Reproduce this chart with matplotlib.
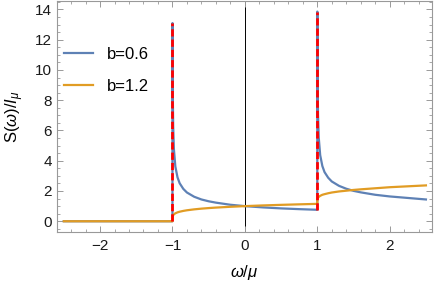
import matplotlib
matplotlib.use("Agg")
import matplotlib.pyplot as plt
from matplotlib.ticker import MultipleLocator

plt.rcParams["font.family"] = ["Liberation Sans", "DejaVu Sans"]
plt.rcParams["mathtext.fontset"] = "custom"
plt.rcParams["mathtext.rm"] = "Liberation Sans"
plt.rcParams["mathtext.it"] = "Liberation Sans:italic"

# curve b=0.6
x_b06 = [-2.5, -1.0, -1.0, -0.9984, -0.997, -0.995, -0.99, -0.98, -0.96, -0.93, -0.9,
         -0.85, -0.8, -0.7, -0.6, -0.5, -0.4, -0.2, 0.0, 0.25, 0.5, 0.75, 1.0,
         1.0, 1.0016, 1.003, 1.005, 1.01, 1.02, 1.04, 1.07, 1.1, 1.15, 1.2, 1.3,
         1.4, 1.5, 1.6, 1.8, 2.0, 2.25, 2.5]
y_b06 = [0.0, 0.0, 13.1, 13.1, 10.2, 8.33, 6.31, 4.78, 3.62, 2.90, 2.51,
         2.14, 1.90, 1.62, 1.44, 1.32, 1.23, 1.09, 1.0, 0.915, 0.85, 0.80, 0.758,
         13.86, 13.86, 10.96, 9.09, 7.07, 5.54, 4.37, 3.65, 3.25, 2.88, 2.63, 2.34,
         2.15, 2.01, 1.91, 1.75, 1.64, 1.54, 1.44]

# curve b=1.2
x_b12 = [-2.5, -1.0, -1.0, -0.999, -0.995, -0.99, -0.98, -0.96, -0.93, -0.9,
         -0.85, -0.8, -0.7, -0.6, -0.5, -0.4, -0.2, 0.0, 0.25, 0.5, 0.75, 1.0,
         1.0, 1.001, 1.005, 1.01, 1.02, 1.04, 1.07, 1.1, 1.15, 1.2, 1.3,
         1.4, 1.5, 1.6, 1.8, 2.0, 2.25, 2.5]
y_b12 = [0.0, 0.0, 0.0, 0.251, 0.347, 0.398, 0.457, 0.525, 0.588, 0.631,
         0.684, 0.725, 0.786, 0.833, 0.871, 0.903, 0.956, 1.0, 1.046, 1.084, 1.118, 1.149,
         1.149, 1.40, 1.50, 1.55, 1.61, 1.68, 1.75, 1.79, 1.85, 1.90, 1.97,
         2.02, 2.07, 2.11, 2.18, 2.25, 2.31, 2.37]

# red dashed markers: x, bottom, top
edge_x = [-1.0, 1.0]
edge_lo = [0.0, 0.758]
edge_hi = [13.1, 13.86]

blue = "#5e81b5"
orange = "#e19c24"
frame = "#999999"

fig = plt.figure(figsize=(4.36, 2.90), dpi=100)
ax = fig.add_axes([0.1314, 0.199, 0.8596, 0.798])

ax.axvline(0, color="black", lw=0.7, zorder=1)
ax.plot(x_b06, y_b06, color=blue, lw=1.6, label="b=0.6", zorder=2)
ax.plot(x_b12, y_b12, color=orange, lw=1.6, label="b=1.2", zorder=3)
ax.vlines(edge_x, edge_lo, edge_hi, colors="red", lw=2.0,
          linestyles=(0, (2.6, 1.1)), zorder=4)

ax.set_xlim(-2.59, 2.585)
ax.set_ylim(-0.73, 14.57)
ax.xaxis.set_major_locator(MultipleLocator(1))
ax.xaxis.set_minor_locator(MultipleLocator(0.2))
ax.yaxis.set_major_locator(MultipleLocator(2))
ax.yaxis.set_minor_locator(MultipleLocator(0.5))

for s in ax.spines.values():
    s.set_color(frame)
    s.set_linewidth(0.8)
ax.tick_params(which="both", direction="in", top=True, right=True,
               color=frame, labelcolor="#1a1a1a", labelsize=11)
ax.tick_params(which="major", length=4.5, width=0.7)
ax.tick_params(which="minor", length=2.5, width=0.6)
ax.tick_params(axis="x", pad=5)
ax.tick_params(axis="y", pad=4)

ax.set_xlabel(r"$\omega/\mu$", fontsize=12, labelpad=7)
ax.set_ylabel(r"S($\omega$)/$I_\mu$", fontsize=12, labelpad=6)

ax.legend(loc="upper left", bbox_to_anchor=(0.0, 0.83), frameon=False,
          fontsize=12, handlelength=1.75, handletextpad=0.8, labelspacing=1.0,
          borderaxespad=0.0)

fig.savefig("out.png", dpi=100)
